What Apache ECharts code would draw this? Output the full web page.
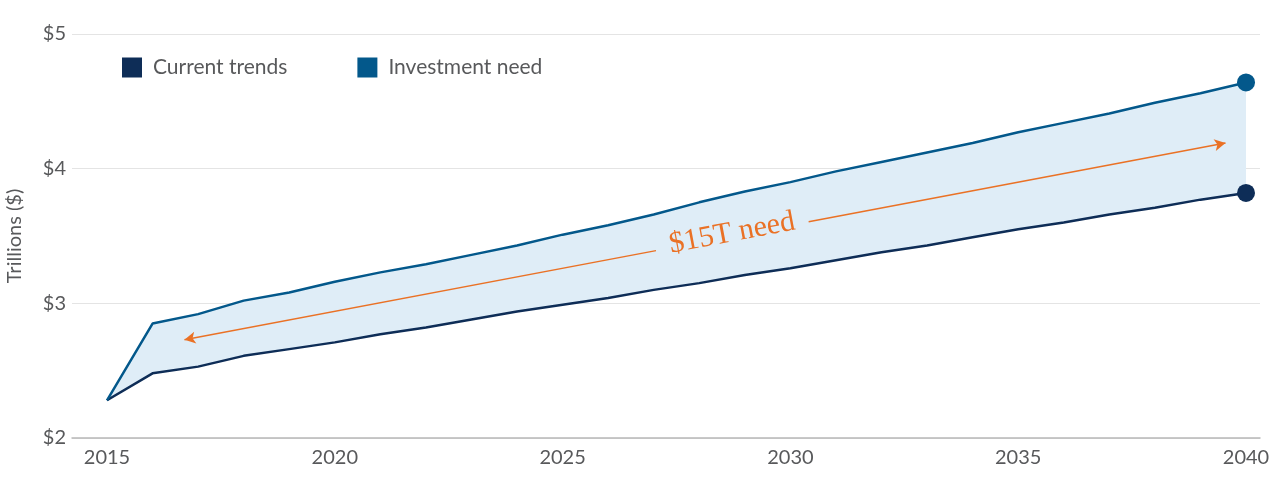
<!DOCTYPE html>
<html>
<head>
<meta charset="utf-8">
<script src="https://cdn.jsdelivr.net/npm/echarts@6/dist/echarts.min.js"></script>
<style>
  html, body { margin: 0; padding: 0; background: #fff; }
  #chart { width: 1280px; height: 477px; }
</style>
</head>
<body>
<div id="chart"></div>
<script>
// values (trillions of dollars)
const years = [2015, 2016, 2017, 2018, 2019, 2020, 2021, 2022, 2023, 2024, 2025, 2026, 2027,
  2028, 2029, 2030, 2031, 2032, 2033, 2034, 2035, 2036, 2037, 2038, 2039, 2040]
const currentTrends = [2.28, 2.48, 2.53, 2.61, 2.66, 2.71, 2.77, 2.82, 2.88, 2.94, 2.99, 3.04, 3.10,
  3.15, 3.21, 3.26, 3.32, 3.38, 3.43, 3.49, 3.55, 3.60, 3.66, 3.71, 3.77, 3.82]
const investmentNeed = [2.28, 2.85, 2.92, 3.02, 3.08, 3.16, 3.23, 3.29, 3.36, 3.43, 3.51, 3.58, 3.66,
  3.75, 3.83, 3.90, 3.98, 4.05, 4.12, 4.19, 4.27, 4.34, 4.41, 4.49, 4.56, 4.64]
const xTicks = [2015, 2020, 2025, 2030, 2035, 2040]
const yTicks = [2, 3, 4, 5]

// annotation arrow: start, end, and the gap left for the text
const arrowStart = [2016.7, 2.73]
const arrowEnd = [2039.55, 4.19]
const gapFrom = 2027.05
const gapTo = 2030.4
const noteText = '$15T need'
const notePos = [2028.72, 3.52]

const colorCurrent = '#0e2d57'
const colorNeed = '#03588b'
const colorBand = '#dfedf7'
const colorNote = '#ea7125'
const textColor = '#58595b'

function pair(xs, ys) {
  return xs.map((x, i) => [x, ys[i]])
}
function onArrow(x) {
  const t = (x - arrowStart[0]) / (arrowEnd[0] - arrowStart[0])
  return [x, arrowStart[1] + t * (arrowEnd[1] - arrowStart[1])]
}
const lastIndex = years.length - 1
function endDot(val, params) {
  return params.dataIndex === lastIndex ? 18 : 0
}

// band between the two lines, drawn once as a polygon
function renderBand(params, api) {
  if (params.dataIndex !== 0) return
  const pts = []
  years.forEach((y, i) => pts.push(api.coord([y, investmentNeed[i]])))
  for (let i = years.length - 1; i >= 0; i--) pts.push(api.coord([years[i], currentTrends[i]]))
  return {
    type: 'polygon',
    shape: { points: pts },
    style: { fill: colorBand },
    silent: true
  }
}

const chart = echarts.init(document.getElementById('chart'))
const option = {
  animation: false,
  backgroundColor: '#fff',
  textStyle: { fontFamily: 'Lato' },
  legend: {
    left: 122,
    top: 57,
    padding: 0,
    icon: 'rect',
    itemWidth: 20,
    itemHeight: 20,
    itemGap: 70,
    selectedMode: false,
    data: ['Current trends', 'Investment need'],
    textStyle: { fontSize: 21, color: textColor, fontFamily: 'Lato', padding: [0, 0, 0, 6] }
  },
  grid: {
    left: 72,
    right: 20,
    top: 34,
    bottom: 39,
    outerBoundsMode: 'none'
  },
  xAxis: {
    type: 'value',
    min: 2014.232,
    max: 2040.307,
    axisLine: { show: true, onZero: false, lineStyle: { color: '#b8b8b8', width: 1.5 } },
    axisTick: { show: false },
    splitLine: { show: false },
    axisLabel: {
      customValues: xTicks,
      margin: 10,
      fontSize: 20,
      color: textColor,
      fontFamily: 'Lato',
      formatter: v => String(v)
    }
  },
  yAxis: {
    type: 'value',
    min: 2,
    max: 5,
    interval: 1,
    name: 'Trillions ($)',
    nameLocation: 'middle',
    nameGap: 47,
    nameTextStyle: { fontSize: 20, color: textColor, fontFamily: 'Lato' },
    axisLine: { show: false },
    axisTick: { show: false },
    axisLabel: {
      margin: 6,
      fontSize: 20,
      color: textColor,
      fontFamily: 'Lato',
      formatter: v => yTicks.indexOf(v) >= 0 ? '$' + v : ''
    },
    splitLine: { lineStyle: { color: '#e4e4e4', width: 1 } }
  },
  series: [
    {
      name: 'band',
      type: 'custom',
      renderItem: renderBand,
      data: pair(years, investmentNeed),
      silent: true,
      z: 1
    },
    {
      name: 'Current trends',
      type: 'line',
      data: pair(years, currentTrends),
      symbol: 'circle',
      symbolSize: endDot,
      showSymbol: true,
      color: colorCurrent,
      lineStyle: { color: colorCurrent, width: 2.5 },
      itemStyle: { color: colorCurrent },
      z: 4
    },
    {
      name: 'Investment need',
      type: 'line',
      data: pair(years, investmentNeed),
      symbol: 'circle',
      symbolSize: endDot,
      showSymbol: true,
      color: colorNeed,
      lineStyle: { color: colorNeed, width: 2.5 },
      itemStyle: { color: colorNeed },
      z: 4,
      markLine: {
        silent: true,
        symbolSize: [9, 11],
        label: { show: false },
        lineStyle: { color: colorNote, width: 1.5, type: 'solid' },
        emphasis: { disabled: true },
        data: [
          [
            { coord: arrowStart, symbol: 'arrow' },
            { coord: onArrow(gapFrom), symbol: 'none' }
          ],
          [
            { coord: onArrow(gapTo), symbol: 'none' },
            { coord: arrowEnd, symbol: 'arrow' }
          ]
        ]
      }
    }
  ]
}
chart.setOption(option)

// rotated note placed along the arrow
const p0 = chart.convertToPixel({ gridIndex: 0 }, arrowStart)
const p1 = chart.convertToPixel({ gridIndex: 0 }, arrowEnd)
const pc = chart.convertToPixel({ gridIndex: 0 }, notePos)
const angle = Math.atan2(p0[1] - p1[1], p1[0] - p0[0])
chart.setOption({
  graphic: [{
    type: 'text',
    x: pc[0],
    y: pc[1],
    rotation: angle,
    z: 10,
    style: {
      text: noteText,
      fill: colorNote,
      fontSize: 30,
      fontStyle: 'normal',
      fontFamily: 'Liberation Serif',
      align: 'center',
      verticalAlign: 'middle'
    }
  }]
})
</script>
</body>
</html>
